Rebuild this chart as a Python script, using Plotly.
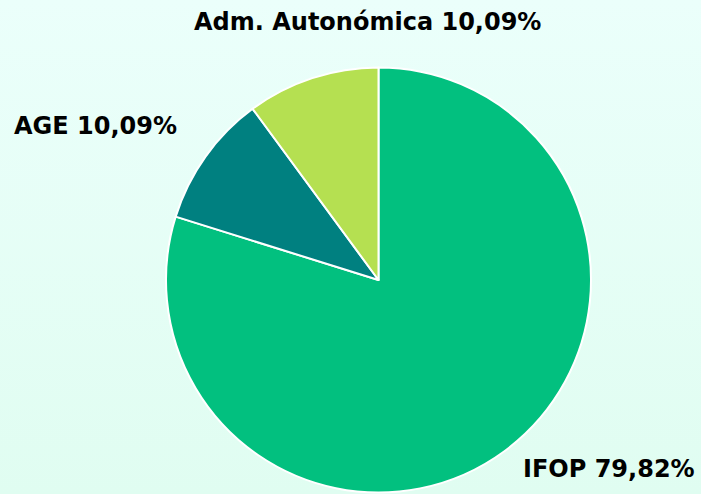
import base64
import plotly.graph_objects as go

# data
labels = ["IFOP", "AGE", "Adm. Autonómica"]
values = [79.82, 10.09, 10.09]
colors = ["#02c07f", "#008080", "#b5e051"]

W, H = 701, 494
# label anchor points in pixels (layout only)
label_pos = [(697, 469, "right"), (179, 126, "right"), (367, 22, "center")]

total = sum(values)
fig = go.Figure(go.Pie(
    labels=labels,
    values=values,
    sort=False,
    direction="clockwise",
    rotation=0,
    marker=dict(colors=colors, line=dict(color="white", width=2)),
    textinfo="none",
    domain=dict(x=[166 / W, 591 / W], y=[1.5 / H, 426.5 / H]),
    showlegend=False,
    hoverinfo="label+percent",
))

for lab, val, (px, py, anc) in zip(labels, values, label_pos):
    pct = f"{val / total * 100:.2f}".replace(".", ",")
    fig.add_annotation(
        x=px / W, y=1 - py / H, xref="paper", yref="paper",
        text=f"<b>{lab} {pct}%</b>", showarrow=False,
        xanchor=anc, yanchor="middle",
        font=dict(family="DejaVu Sans", size=24, color="black"),
    )

svg = ('<svg xmlns="http://www.w3.org/2000/svg" width="10" height="100" preserveAspectRatio="none">'
       '<defs><linearGradient id="g" x1="0" y1="0" x2="0" y2="1">'
       '<stop offset="0" stop-color="#ebfffb"/><stop offset="1" stop-color="#e0fdf1"/>'
       '</linearGradient></defs><rect width="10" height="100" fill="url(#g)"/></svg>')
bg = "data:image/svg+xml;base64," + base64.b64encode(svg.encode()).decode()

fig.update_layout(
    width=W, height=H,
    margin=dict(l=0, r=0, t=0, b=0),
    paper_bgcolor="#e6fef6",
    images=[dict(source=bg, xref="paper", yref="paper", x=0, y=1, sizex=1, sizey=1,
                 sizing="stretch", layer="below")],
)

fig.write_html("out.html", config={"displayModeBar": False},
               post_script="document.body.style.margin='0';")
